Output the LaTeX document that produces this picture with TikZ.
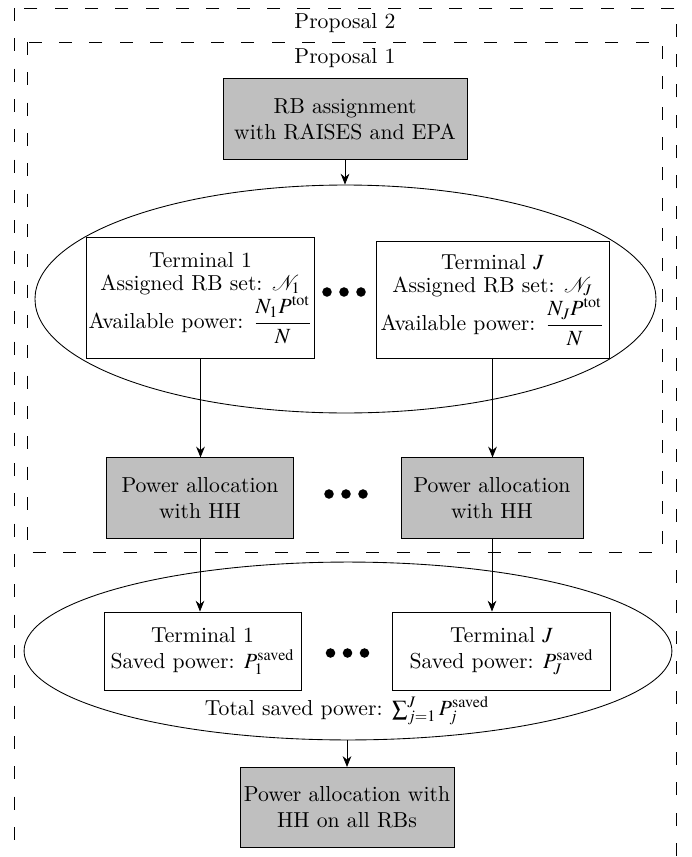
\documentclass[tikz,border=0pt]{standalone}
\usepackage{amsmath}
\usepackage{mathptmx}
\usetikzlibrary{shapes.geometric,arrows.meta}

\begin{document}
\begin{tikzpicture}[x=0.4615pt, y=-0.4615pt,
  proc/.style={draw, fill=gray!50, align=center, minimum width=#1, minimum height=37pt, inner sep=1pt},
  term/.style={draw, fill=white, align=center, inner sep=1pt, minimum width=#1},
  group/.style={draw, ellipse, inner sep=0pt},
  frame/.style={draw, dash pattern=on 6pt off 8pt},
  flow/.style={-{Stealth[length=5pt,width=4pt]}}
]
  \useasboundingbox (0,0) rectangle (691,857);

  % proposal frames
  \draw[frame] (14,8) rectangle (676,920);
  \node (prop2) at (345,23) {Proposal 2};
  \draw[frame] (27,42) rectangle (662,552);
  \node (prop1) at (345,58) {Proposal 1};

  \node[proc=112.6pt] (assign) at (345,119) {RB assignment\\ with RAISES and EPA};

  \node[group, minimum width=286.6pt, minimum height=105.2pt] (termset) at (345.5,299) {};
  \node[term=104.8pt, minimum height=56pt] (term1) at (200.5,298) {Terminal 1\\[-1.5pt] Assigned RB set: $\mathcal{N}_1$\\ Available power: $\dfrac{N_1P^{\mathrm{tot}}}{N}$};
  \node[term=107.5pt, minimum height=54pt] (termJ) at (492.5,300) {Terminal $J$\\[-1.5pt] Assigned RB set: $\mathcal{N}_J$\\ Available power: $\dfrac{N_JP^{\mathrm{tot}}}{N}$};

  \node[proc=86pt] (pa1) at (200,498) {Power allocation\\ with HH};
  \node[proc=84pt] (paJ) at (492,498) {Power allocation\\ with HH};

  \node[group, minimum width=299pt, minimum height=82.1pt] (savedset) at (348,651) {};
  \node[term=90.9pt, minimum height=36pt] (saved1) at (202.5,651) {Terminal 1\\ Saved power: $P_1^{\mathrm{saved}}$};
  \node[term=101pt, minimum height=36pt] (savedJ) at (501.5,651) {Terminal $J$\\ Saved power: $P_J^{\mathrm{saved}}$};
  \node (total) at (347,711) {Total saved power: $\sum_{j=1}^{J} P_j^{\mathrm{saved}}$};

  \node[proc=98.8pt] (final) at (347,807.5) {Power allocation with\\ HH on all RBs};

  % dots between terminals
  \foreach \x/\y in {344/292, 346/494, 347.5/653}
    \foreach \d in {-17,0,17}
      \fill (\x+\d,\y) circle (2.2pt);

  \draw[flow] (assign.south) -- (assign.south |- termset.north);
  \draw[flow] (term1.south) -- (term1.south |- pa1.north);
  \draw[flow] (termJ.south) -- (termJ.south |- paJ.north);
  \draw[flow] (pa1.south) -- (pa1.south |- saved1.north);
  \draw[flow] (paJ.south) -- (paJ.south |- savedJ.north);
  \draw[flow] (final.north |- savedset.south) -- (final.north);
\end{tikzpicture}
\end{document}
